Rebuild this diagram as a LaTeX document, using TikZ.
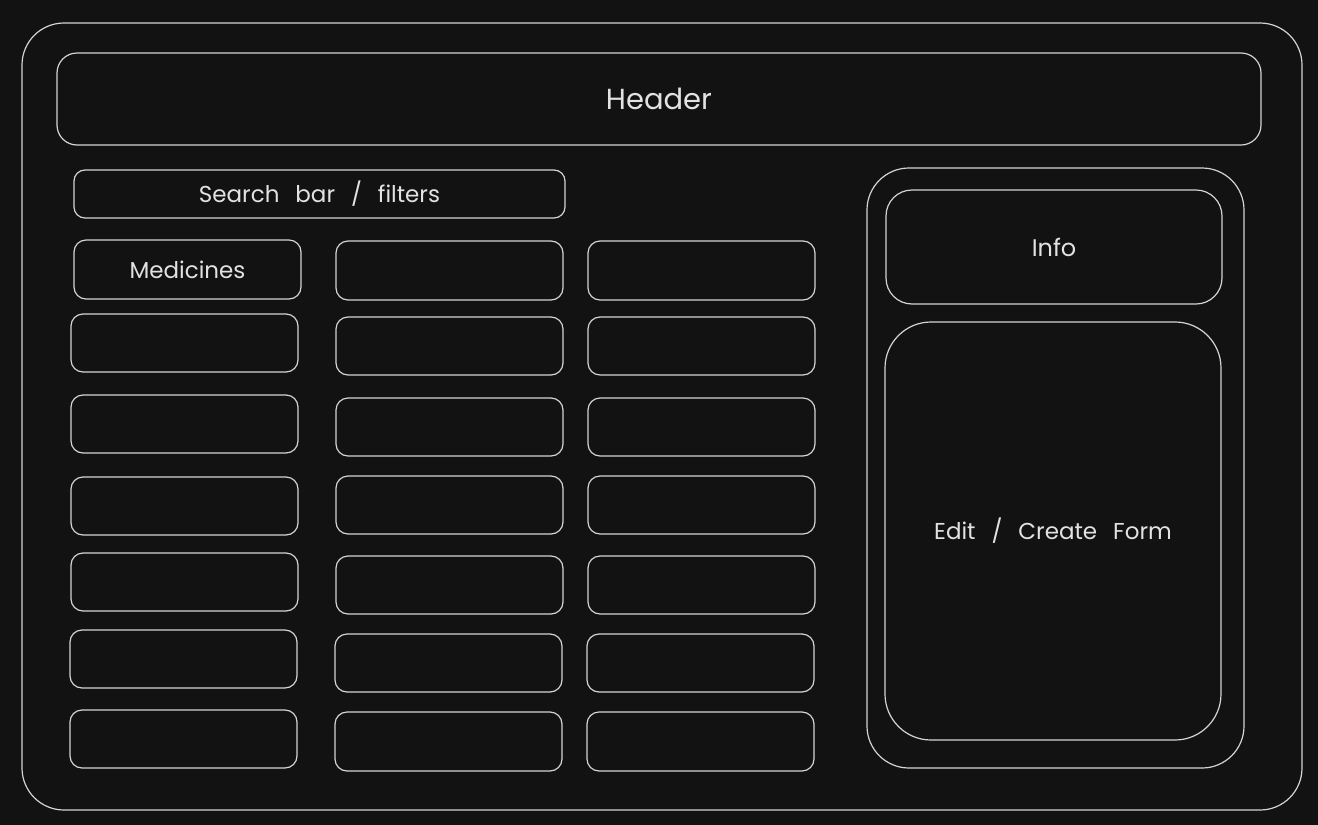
\documentclass[tikz,border=0pt]{standalone}
\usepackage{fontspec}
\setmainfont[WordSpace=2.6]{Poppins}
\definecolor{bg}{HTML}{121212}
\definecolor{ln}{HTML}{D4D4D4}
\definecolor{tx}{HTML}{E2E2E2}
\begin{document}
\begin{tikzpicture}[x=1pt,y=-1pt,
  box/.style={draw=ln, line width=1.2pt, rounded corners=12pt, inner sep=0pt, outer sep=0pt,
    anchor=north west, text=tx, font=\fontsize{23}{26}\selectfont},
  cell/.style={box, minimum width=227pt, minimum height=58pt}]
\fill[bg] (0,0) rectangle (1318,825);
\useasboundingbox (0,0) rectangle (1318,825);
% outer frame
\node[box, rounded corners=42pt, minimum width=1280pt, minimum height=787pt] (frame) at (22,23) {};
\node[box, rounded corners=20pt, minimum width=1204pt, minimum height=92pt,
  font=\fontsize{29}{32}\selectfont] (header) at (57,53) {Header};
\node[box, rounded corners=11pt, minimum width=491pt, minimum height=48pt] (search) at (74,170) {Search bar / filters};
% column 1
\node[cell, minimum height=59pt] (c11) at (74,240) {Medicines};
\node[cell] (c12) at (71,314) {};
\node[cell] (c13) at (71,395) {};
\node[cell] (c14) at (71,477) {};
\node[cell] (c15) at (71,553) {};
\node[cell] (c16) at (70,630) {};
\node[cell] (c17) at (70,710) {};
% column 2
\node[cell, minimum height=59pt] (c21) at (336,241) {};
\node[cell] (c22) at (336,317) {};
\node[cell] (c23) at (336,398) {};
\node[cell] (c24) at (336,476) {};
\node[cell] (c25) at (336,556) {};
\node[cell] (c26) at (335,634) {};
\node[cell, minimum height=59pt] (c27) at (335,712) {};
% column 3
\node[cell, minimum height=59pt] (c31) at (588,241) {};
\node[cell] (c32) at (588,317) {};
\node[cell] (c33) at (588,398) {};
\node[cell] (c34) at (588,476) {};
\node[cell] (c35) at (588,556) {};
\node[cell] (c36) at (587,634) {};
\node[cell, minimum height=59pt] (c37) at (587,712) {};
% right panel
\node[box, rounded corners=42pt, minimum width=377pt, minimum height=600pt] (panel) at (867,168) {};
\node[box, rounded corners=26pt, minimum width=336pt, minimum height=114pt,
  font=\fontsize{24}{26}\selectfont] (info) at (886,190) {Info};
\node[box, rounded corners=46pt, minimum width=336pt, minimum height=418pt] (form) at (885,322) {Edit / Create Form};
\end{tikzpicture}
\end{document}
